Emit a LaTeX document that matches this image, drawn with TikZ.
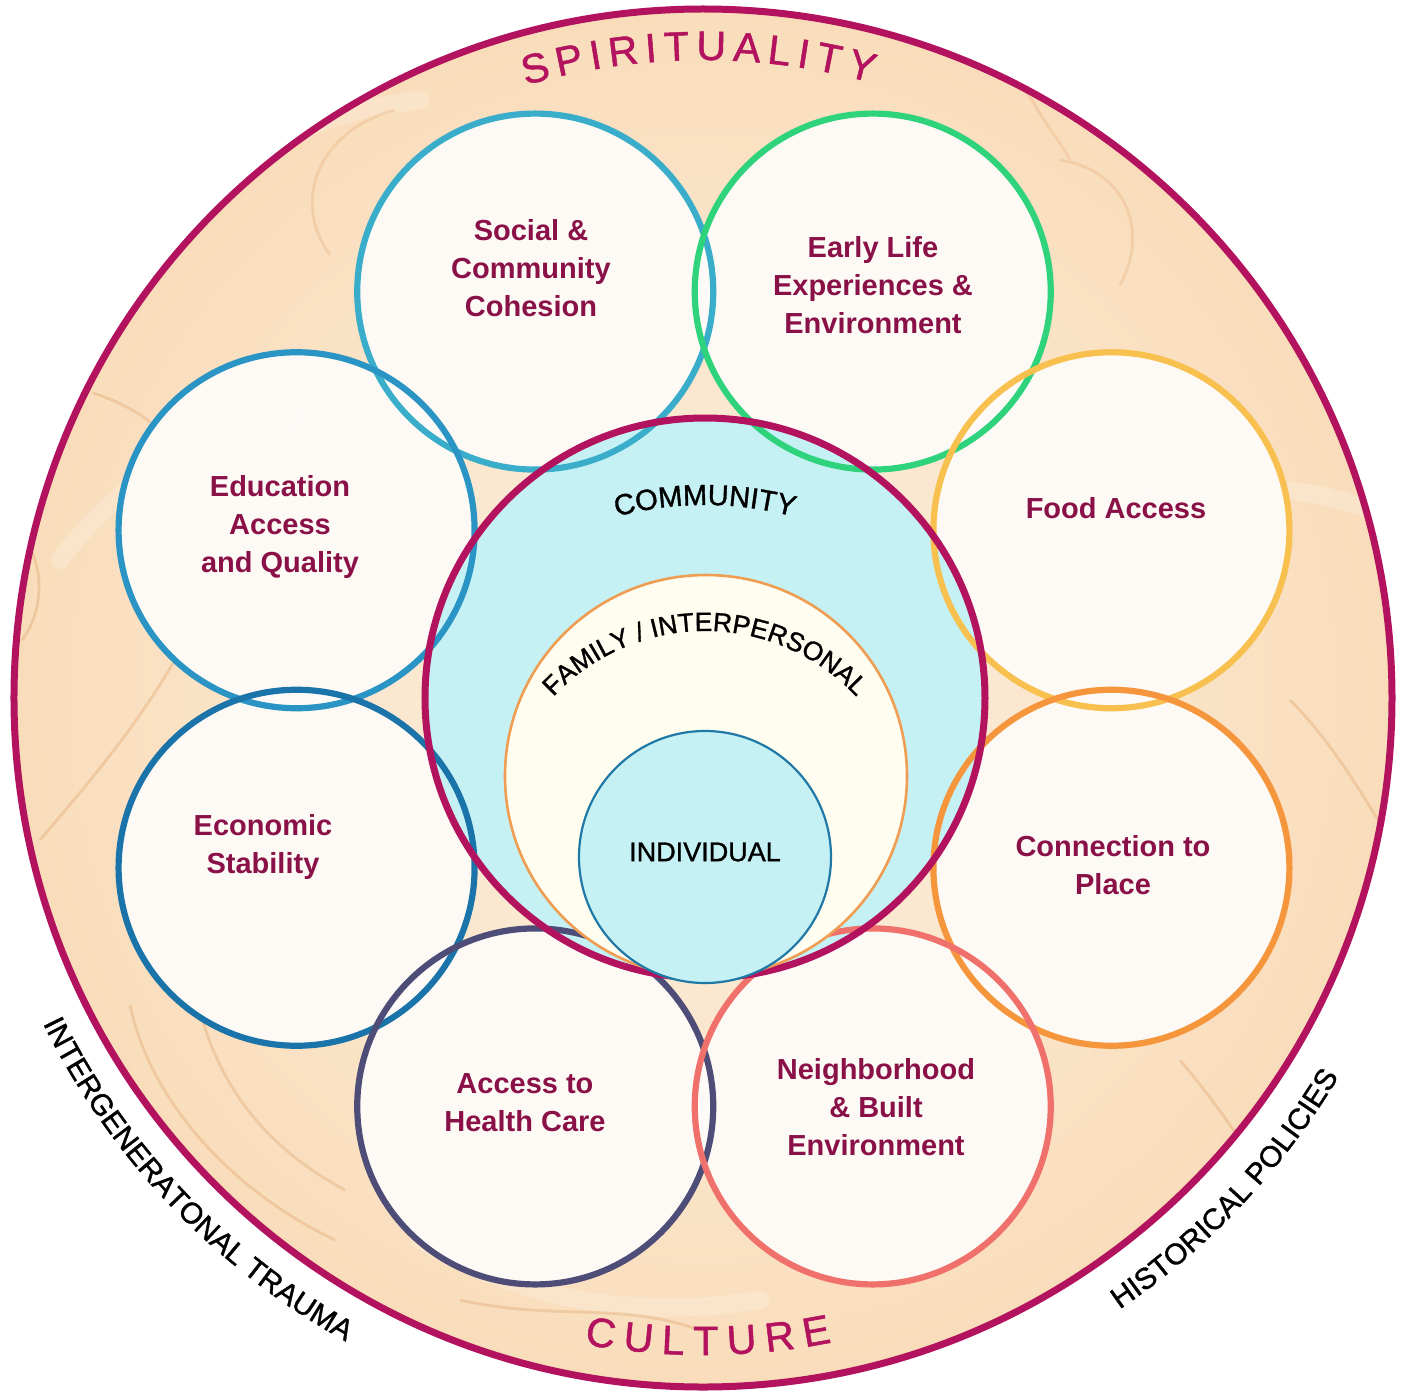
\documentclass[tikz,border=0pt]{standalone}
\usepackage{fontspec}
\setmainfont{Liberation Sans}
\newfontfamily\medsans[FakeBold=1.2]{Liberation Sans}
\usetikzlibrary{decorations.text}
\definecolor{magentaR}{HTML}{B3125E}
\definecolor{labelC}{HTML}{8A1148}
\definecolor{peach}{HTML}{F9DDBB}
\definecolor{peachL}{HTML}{FDF0E0}
\definecolor{tanC}{HTML}{E2A874}
\definecolor{cSocial}{HTML}{3AADCA}
\definecolor{cEarly}{HTML}{2ED37C}
\definecolor{cEdu}{HTML}{2A94C4}
\definecolor{cFood}{HTML}{F8C04F}
\definecolor{cEcon}{HTML}{1A74A9}
\definecolor{cPlace}{HTML}{F5963D}
\definecolor{cHealth}{HTML}{4E4D78}
\definecolor{cNeigh}{HTML}{F0716B}
\definecolor{commFill}{HTML}{C6F1F4}
\definecolor{famFill}{HTML}{FFFDF0}
\definecolor{famLine}{HTML}{EE9D52}
\definecolor{indLine}{HTML}{1F78A6}
\definecolor{smallFill}{HTML}{FEFBF8}
\newcommand\labfont{\fontsize{14.5}{19}\selectfont\bfseries}
\newcommand\bigfont{\medsans\fontsize{20.5}{24}\selectfont}
\newcommand\commfont{\medsans\fontsize{14.5}{17}\selectfont}
\newcommand\famfont{\medsans\fontsize{13.2}{15}\selectfont}
\newcommand\outfont{\medsans\fontsize{14.8}{17}\selectfont}
\newcommand\indfont{\medsans\fontsize{13.5}{16}\selectfont}
\begin{document}
\begin{tikzpicture}[x=0.5pt,y=0.5pt,
  ringline/.style={line width=3.1pt},
  smallfill/.style={fill=smallFill, fill opacity=0.95},
  lab/.style={text=labelC, font=\labfont, align=center, inner sep=0pt},
  bigletter/.style={text=magentaR, font=\bigfont, inner sep=0pt, anchor=center},
  texline/.style={draw=tanC, line width=1.4pt, opacity=0.4},
  hiline/.style={draw=white, line width=9pt, opacity=0.2, line cap=round}
]
\useasboundingbox (-703,-695) rectangle (699,698);
% background disc
\shade[inner color=peachL, outer color=peach] (0,0) circle (689);
\begin{scope}
  \clip (0,0) circle (689);
  \begin{scope}[shift={(-703,698)}, yscale=-1]
    \draw[hiline] (60,560) .. controls (120,480) and (200,430) .. (300,420);
    \draw[hiline] (980,560) .. controls (1150,480) and (1300,470) .. (1390,520);
    \draw[hiline] (420,1240) .. controls (520,1300) and (640,1320) .. (760,1300);
    \draw[hiline] (200,210) .. controls (260,140) and (330,110) .. (420,100);
    \draw[texline] (173,663) .. controls (140,720) and (100,770) .. (40,840);
    \draw[texline] (20,535) .. controls (45,560) and (45,610) .. (22,640);
    \draw[texline] (130,1005) .. controls (150,1100) and (230,1190) .. (335,1240);
    \draw[texline] (200,1010) .. controls (220,1090) and (270,1150) .. (345,1190);
    \draw[texline] (93,393) .. controls (115,400) and (135,410) .. (150,422);
    \draw[texline] (1290,700) .. controls (1330,740) and (1360,790) .. (1390,840);
    \draw[texline] (1180,1060) .. controls (1230,1120) and (1270,1180) .. (1290,1235);
    \draw[texline, opacity=0.3] (330,255) .. controls (290,200) and (320,130) .. (395,110);
    \draw[texline, opacity=0.3] (1060,160) .. controls (1125,170) and (1150,230) .. (1120,285);
    \draw[texline] (460,1300) .. controls (560,1322) and (620,1300) .. (705,1332);
    \draw[texline, opacity=0.3] (1010,60) .. controls (1040,120) and (1060,140) .. (1070,160);
  \end{scope}
\end{scope}
% small circle fills
\foreach \a in {112.5,67.5,157.5,22.5,202.5,-22.5,247.5,292.5}
  \path[smallfill] ([shift={(1,-1)}]\a:441) circle (178);
% community fill
\fill[commFill] (2,0) circle (280);
% small circle rings
\foreach \a/\c in {112.5/cSocial, 67.5/cEarly, 157.5/cEdu, 22.5/cFood, 202.5/cEcon, -22.5/cPlace, 247.5/cHealth, 292.5/cNeigh}
  \draw[ringline, draw=\c] ([shift={(1,-1)}]\a:441) circle (178);
% community ring
\draw[magentaR, line width=3.5pt] (2,0) circle (280);
% family and individual
\draw[famLine, fill=famFill, line width=1.3pt] (3,-78) circle (201);
\draw[indLine, fill=commFill, line width=1.1pt] (2,-159) circle (126);
% outer ring
\draw[magentaR, line width=3.5pt] (0,0) circle (689);
% labels
\node[lab] (soc) at (-172,430) {Social \&\\Community\\Cohesion};
\node[lab] (ear) at (170,413) {Early Life\\Experiences \&\\Environment};
\node[lab] (edu) at (-423,171) {Education\\Access\\and Quality};
\node[lab] (foo) at (413,190) {Food Access};
\node[lab] (eco) at (-440,-149) {Economic\\Stability};
\node[lab] (pla) at (410,-167) {Connection to\\Place};
\node[lab] (hea) at (-178,-405) {Access to\\Health Care};
\node[lab] (nei) at (173,-409) {Neighborhood\\\& Built\\Environment};
\node[font=\indfont, inner sep=0pt] (ind) at (2,-154) {INDIVIDUAL};
% arc texts
\path[decorate, decoration={text along path, text={|\commfont|COMMUNITY}, text align=center}]
  ([shift={(2,-152)}]115:345) arc[start angle=115, end angle=65, radius=345];
\path[decorate, decoration={text along path, text={|\famfont|FAMILY / INTERPERSONAL}, text align=center}]
  ([shift={(2,-140)}]150:207) arc[start angle=150, end angle=30, radius=207];
\path[decorate, decoration={text along path, text={|\outfont|INTERGENERATONAL TRAUMA}, text align=center}]
  (193.6:736) arc[start angle=193.6, end angle=253.6, radius=736];
\path[decorate, decoration={text along path, text={|\outfont|HISTORICAL POLICIES}, text align=center}]
  (286.75:740) arc[start angle=286.75, end angle=346.75, radius=740];
% SPIRITUALITY
\foreach \l/\a [count=\i] in {S/104.93, P/101.87, I/99.51, R/97.05, I/94.59, T/92.33, U/89.27, A/86.11, L/83.25, I/81.09, T/78.83, Y/75.87}
  \node[bigletter, rotate=\a-90] (sp\i) at (\a:652) {\l};
% CULTURE
\foreach \l/\a [count=\i] in {C/-99.13, U/-95.74, L/-92.65, T/-89.75, U/-86.56, R/-83.16, E/-79.87}
  \node[bigletter, rotate=\a+90] (cu\i) at (\a:643) {\l};
\end{tikzpicture}
\end{document}
